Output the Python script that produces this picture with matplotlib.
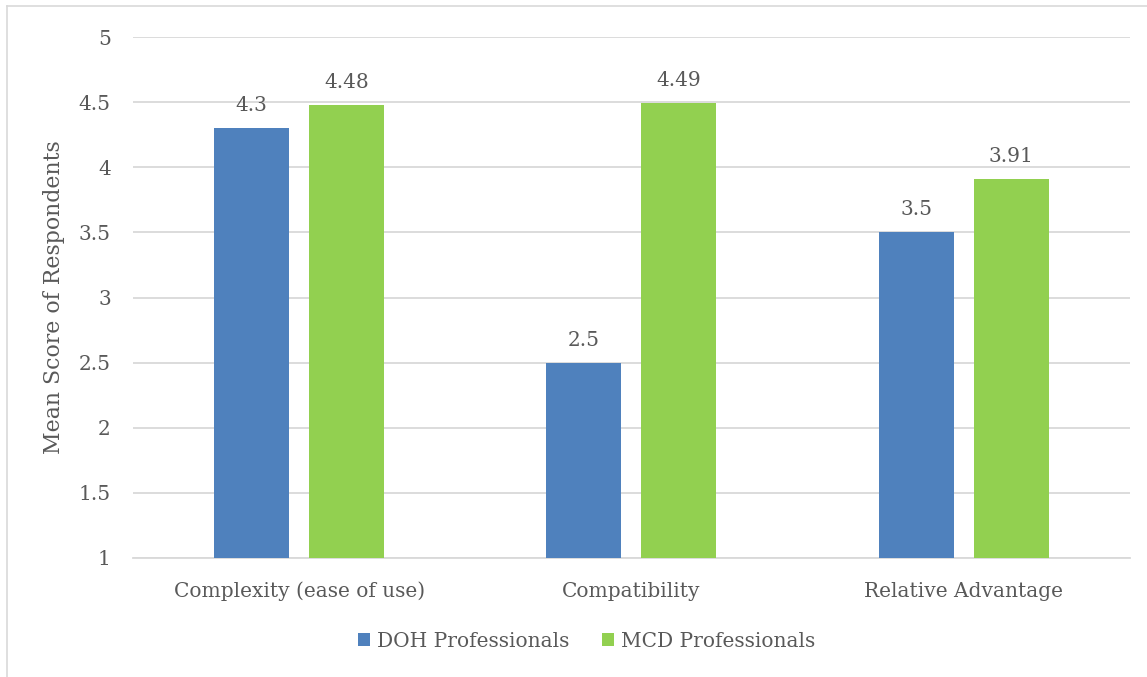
import numpy as np
import matplotlib
matplotlib.use('Agg')
import matplotlib.pyplot as plt
from matplotlib.lines import Line2D

# ── Data ──────────────────────────────────────────────────────────────────────
categories = ['Complexity (ease of use)', 'Compatibility', 'Relative Advantage']
doh_scores = [4.3, 2.5, 3.5]
mcd_scores = [4.48, 4.49, 3.91]
series_names = ['DOH Professionals', 'MCD Professionals']

BLUE = '#4f81bd'
GREEN = '#92d050'
TEXT = '#595959'
GRID = '#d9d9d9'

plt.rcParams['font.family'] = ['DejaVu Serif']

fig = plt.figure(figsize=(11.47, 6.77), dpi=100)
ax = fig.add_axes([0.116, 0.1758, 0.869, 0.7695])

x = np.arange(len(categories))
w = 0.226
off = 0.143
b1 = ax.bar(x - off, doh_scores, w, bottom=0, color=BLUE, label=series_names[0], zorder=3)
b2 = ax.bar(x + off, mcd_scores, w, bottom=0, color=GREEN, label=series_names[1], zorder=3)

for bars, vals in ((b1, doh_scores), (b2, mcd_scores)):
    for bar, v in zip(bars, vals):
        ax.text(bar.get_x() + bar.get_width() / 2, v + 0.1, f'{v:g}',
                ha='center', va='bottom', fontsize=14.5, color=TEXT)

ax.set_xlim(-0.5, 2.5)
ax.set_ylim(1, 5)
ax.set_yticks(np.arange(1, 5.01, 0.5))
ax.set_yticklabels([f'{t:g}' for t in np.arange(1, 5.01, 0.5)])
ax.set_xticks(x)
ax.set_xticklabels(categories)
ax.tick_params(axis='both', length=0, labelsize=14.5, labelcolor=TEXT)
ax.tick_params(axis='y', pad=16)
ax.tick_params(axis='x', pad=17)
ax.grid(axis='y', color=GRID, linewidth=1.3, zorder=0)
for side in ['top', 'right', 'left']:
    ax.spines[side].set_visible(False)
ax.spines['bottom'].set_color(GRID)
ax.spines['bottom'].set_linewidth(1.3)
ax.set_ylabel('Mean Score of Respondents', fontsize=15.8, color=TEXT, labelpad=10)

ax.legend(loc='center', bbox_to_anchor=(0.455, -0.16), ncol=2, frameon=False,
          fontsize=14.5, labelcolor=TEXT, handlelength=0.6, handleheight=0.6,
          handletextpad=0.35, columnspacing=1.6)

# chart frame
fig.add_artist(Line2D([0.006, 1.0], [0.991, 0.991], color=GRID, linewidth=1.2))
fig.add_artist(Line2D([0.006, 0.006], [0.0, 0.991], color=GRID, linewidth=1.2))

fig.savefig('out.png', dpi=100)
